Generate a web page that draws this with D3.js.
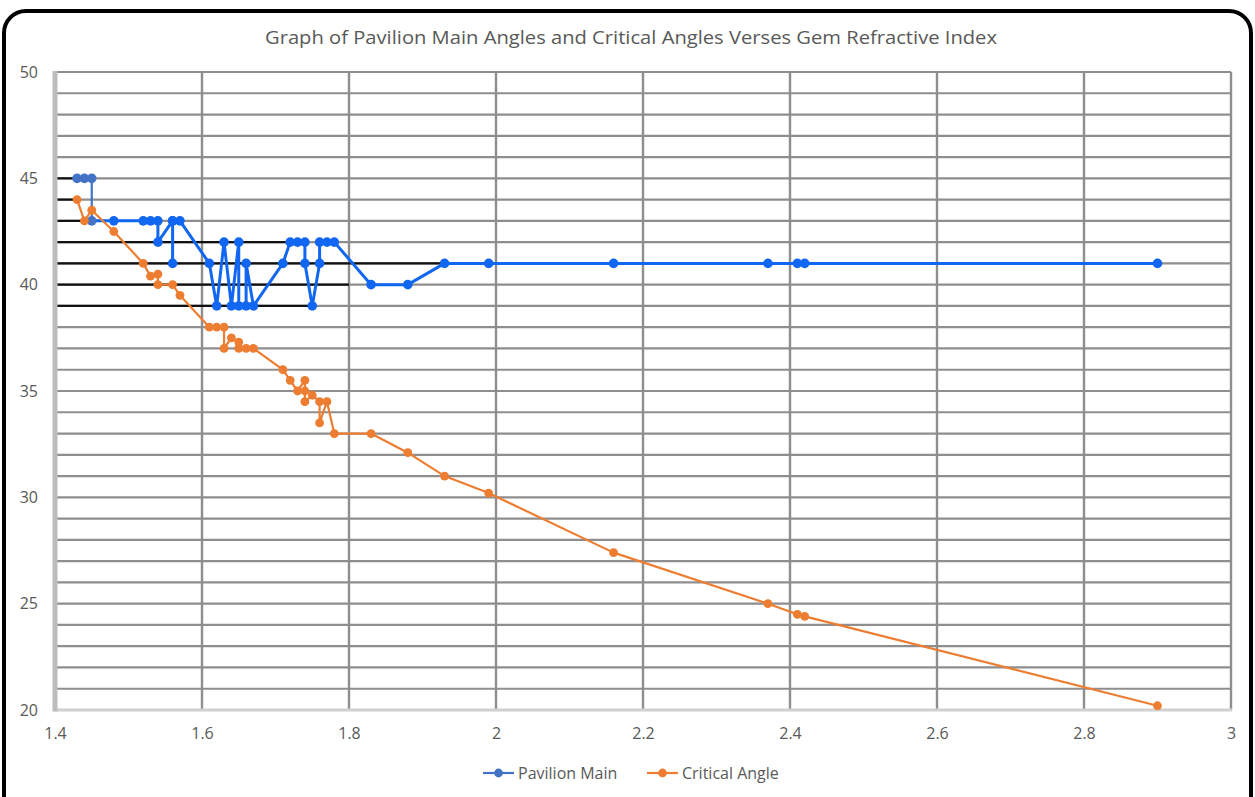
<!DOCTYPE html>
<html><head><meta charset="utf-8">
<script src="https://cdn.jsdelivr.net/npm/d3@7"></script>
<style>body{margin:0;background:#fff}svg{display:block}</style>
</head><body>
<svg id="c" width="1255" height="797"></svg>
<script>
const title = "Graph of Pavilion Main Angles and Critical Angles Verses Gem Refractive Index";
const seriesNames = ["Pavilion Main", "Critical Angle"];
const xTicks = [1.4, 1.6, 1.8, 2.0, 2.2, 2.4, 2.6, 2.8, 3.0];
const xTickLabels = ["1.4","1.6","1.8","2","2.2","2.4","2.6","2.8","3"];
const yTicks = [20, 25, 30, 35, 40, 45, 50];
const pavilionX = [1.43,1.44,1.45,1.45,1.48,1.52,1.53,1.54,1.54,1.56,1.56,1.56,1.57,1.61,1.62,1.63,1.64,1.65,1.65,1.66,1.66,1.67,1.71,1.72,1.73,1.74,1.74,1.75,1.76,1.76,1.77,1.78,1.83,1.88,1.93,1.99,2.16,2.37,2.41,2.42,2.90];
const pavilionY = [45,45,45,43,43,43,43,43,42,43,41,43,43,41,39,42,39,42,39,39,41,39,41,42,42,42,41,39,41,42,42,42,40,40,41,41,41,41,41,41,41];
const criticalX = [1.43,1.44,1.45,1.48,1.52,1.53,1.54,1.54,1.56,1.57,1.61,1.62,1.63,1.63,1.64,1.65,1.65,1.66,1.67,1.71,1.72,1.73,1.74,1.74,1.74,1.75,1.76,1.76,1.77,1.78,1.83,1.88,1.93,1.99,2.16,2.37,2.41,2.42,2.90];
const criticalY = [44,43,43.5,42.5,41,40.4,40.5,40,40,39.5,38,38,38,37,37.5,37.3,37,37,37,36,35.5,35,35.5,35,34.5,34.8,34.5,33.5,34.5,33,33,32.1,31,30.2,27.4,25,24.5,24.4,20.2];
// dark reference segments seen on the left part of some gridlines: [y, x end]
const darkLineY = [45,44,43,42,41,40,39];
const darkLineXEnd = [1.43,1.43,1.45,1.72,1.93,1.80,1.75];

const svg = d3.select("#c");
const W = 1255, H = 797;
const m = {l:55, r:1231, t:72, b:710};
const x = d3.scaleLinear().domain([1.4, 3.0]).range([m.l, m.r]);
const y = d3.scaleLinear().domain([20, 50]).range([m.b, m.t]);

// outer rounded border
svg.append("rect").attr("x",4).attr("y",11).attr("width",W-8).attr("height",H+20)
  .attr("rx",22).attr("fill","#fff").attr("stroke","#000").attr("stroke-width",4);

svg.append("text").attr("x",631).attr("y",44).attr("text-anchor","middle")
  .attr("font-family","Open Sans, sans-serif").attr("font-size",18).attr("fill","#595959")
  .attr("textLength",732).attr("lengthAdjust","spacingAndGlyphs").text(title);

const g = svg.append("g");
// horizontal gridlines every 1
const hVals = d3.range(21, 51, 1);
g.selectAll("line.h").data(hVals).join("line")
  .attr("x1",m.l).attr("x2",m.r).attr("y1",d=>y(d)).attr("y2",d=>y(d))
  .attr("stroke","#8e8e8e").attr("stroke-width",2.2);
// vertical gridlines
g.selectAll("line.v").data(xTicks.slice(1)).join("line")
  .attr("x1",d=>x(d)).attr("x2",d=>x(d)).attr("y1",m.t).attr("y2",m.b)
  .attr("stroke","#8e8e8e").attr("stroke-width",2.4);
// dark segments
g.selectAll("line.k").data(darkLineY).join("line")
  .attr("x1",m.l).attr("x2",(d,i)=>x(darkLineXEnd[i])).attr("y1",d=>y(d)).attr("y2",d=>y(d))
  .attr("stroke","#111").attr("stroke-width",2.2);
// axes lines
g.append("line").attr("x1",m.l).attr("x2",m.r+1).attr("y1",m.b).attr("y2",m.b)
  .attr("stroke","#d0d0d0").attr("stroke-width",3);
g.append("line").attr("x1",m.l).attr("x2",m.l).attr("y1",m.t-1).attr("y2",m.b+1.5)
  .attr("stroke","#bdbdbd").attr("stroke-width",5);

// axis labels via d3 axes
const yAxis = d3.axisLeft(y).tickValues(yTicks).tickSize(0).tickPadding(17);
const ya = svg.append("g").attr("transform",`translate(${m.l},0)`).call(yAxis);
ya.select(".domain").remove();
ya.selectAll("text").attr("font-family","Open Sans, sans-serif").attr("font-size",16).attr("fill","#595959");

const xAxis = d3.axisBottom(x).tickValues(xTicks).tickFormat((d,i)=>xTickLabels[i]).tickSize(0).tickPadding(18);
const xa = svg.append("g").attr("transform",`translate(0,${m.b})`).call(xAxis);
xa.select(".domain").remove();
xa.selectAll("text").attr("font-family","Open Sans, sans-serif").attr("font-size",16).attr("fill","#595959");

const blue = "#1267f2", blueDull = "#4472c4", orange = "#ed7d31";
const dullCount = 4;
const pav = pavilionX.map((v,i)=>({x:v,y:pavilionY[i],i}));
const crit = criticalX.map((v,i)=>({x:v,y:criticalY[i],i}));
const line = d3.line().x(d=>x(d.x)).y(d=>y(d.y));

svg.append("path").attr("d",line(pav.slice(dullCount-1))).attr("fill","none")
  .attr("stroke",blue).attr("stroke-width",3).attr("stroke-linejoin","round");
svg.append("path").attr("d",line(pav.slice(0,dullCount))).attr("fill","none")
  .attr("stroke",blueDull).attr("stroke-width",2.2);
svg.selectAll("circle.p").data(pav).join("circle")
  .attr("cx",d=>x(d.x)).attr("cy",d=>y(d.y)).attr("r",4.8)
  .attr("fill",d=>d.i<dullCount?blueDull:blue);

svg.append("path").attr("d",line(crit)).attr("fill","none")
  .attr("stroke",orange).attr("stroke-width",2.2).attr("stroke-linejoin","round");
svg.selectAll("circle.c").data(crit).join("circle")
  .attr("cx",d=>x(d.x)).attr("cy",d=>y(d.y)).attr("r",4.4).attr("fill",orange);

// legend
const leg = svg.append("g").attr("font-family","Open Sans, sans-serif").attr("font-size",16).attr("fill","#595959");
const legItems = [{name:seriesNames[0],c:blueDull,x0:483},{name:seriesNames[1],c:orange,x0:647}];
legItems.forEach(it=>{
  leg.append("line").attr("x1",it.x0).attr("x2",it.x0+31).attr("y1",773).attr("y2",773)
    .attr("stroke",it.c).attr("stroke-width",2.2);
  leg.append("circle").attr("cx",it.x0+15.5).attr("cy",773).attr("r",4.4).attr("fill",it.c);
  leg.append("text").attr("x",it.x0+35).attr("y",779).text(it.name);
});
</script>
</body></html>
